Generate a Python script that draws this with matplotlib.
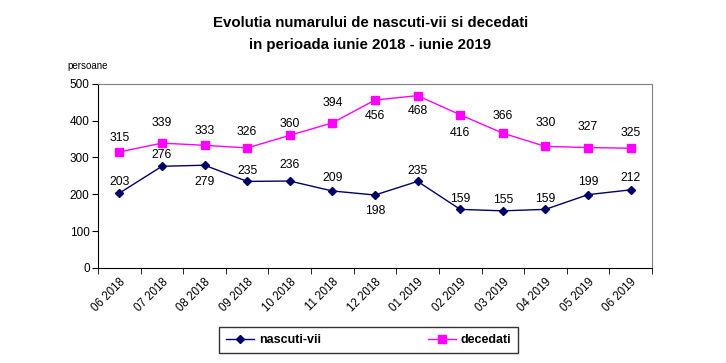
import numpy as np
import matplotlib.pyplot as plt

plt.rcParams['font.family'] = ['Liberation Sans', 'DejaVu Sans']

luni = ['06 2018', '07 2018', '08 2018', '09 2018', '10 2018', '11 2018', '12 2018',
        '01 2019', '02 2019', '03 2019', '04 2019', '05 2019', '06 2019']
nascuti = [203, 276, 279, 235, 236, 209, 198, 235, 159, 155, 159, 199, 212]
decedati = [315, 339, 333, 326, 360, 394, 456, 468, 416, 366, 330, 327, 325]

# offset vertical al etichetelor (pixeli, + sus / - jos)
off_nascuti = [11, 11, -17, 10, 16, 13, -16, 10, 10, 11, 10, 13, 12]
off_decedati = [14, 20, 14, 16, 11, 20, -16, -15, -18, 17, 23, 21, 15]

fig = plt.figure(figsize=(7.26, 3.63), dpi=100)
ax = fig.add_axes([0.135, 0.262, 0.763, 0.507])

x = np.arange(len(luni))
ax.plot(x, nascuti, color='#000066', lw=1, marker='D', ms=4, label='nascuti-vii')
ax.plot(x, decedati, color='#FF00FF', lw=1, marker='s', ms=6, label='decedati')

px = 0.72
for i in range(len(x)):
    ax.annotate(str(nascuti[i]), (x[i], nascuti[i]), xytext=(0, off_nascuti[i] * px),
                textcoords='offset points', ha='center', va='center', fontsize=8.8)
    ax.annotate(str(decedati[i]), (x[i], decedati[i]), xytext=(0, off_decedati[i] * px),
                textcoords='offset points', ha='center', va='center', fontsize=8.8)

ax.set_xlim(-0.5, len(luni) - 0.5)
ax.set_ylim(0, 500)
ax.set_yticks(range(0, 501, 100))
ax.set_xticks(x)
ax.set_xticklabels(luni, rotation=45, ha='right', va='top', rotation_mode='anchor', fontsize=8.3)
ax.set_xticks(np.arange(-0.5, len(luni), 1), minor=True)
ax.tick_params(axis='x', which='major', length=0, pad=6)
ax.tick_params(axis='x', which='minor', length=4, direction='out', color='black')
ax.tick_params(axis='y', length=4, direction='out', labelsize=8.5, pad=2)

for s in ['top', 'right']:
    ax.spines[s].set_color('#808080')
for s in ['left', 'bottom']:
    ax.spines[s].set_color('black')

fig.text(0.135 - 0.042, 0.818, 'persoane', fontsize=7, ha='left', va='center')
fig.text(0.51, 0.937, 'Evolutia numarului de nascuti-vii si decedati', fontsize=10.8,
         fontweight='bold', ha='center', va='center')
fig.text(0.51, 0.876, 'in perioada iunie 2018 - iunie 2019', fontsize=10.8,
         fontweight='bold', ha='center', va='center')

leg = fig.legend(loc='center', bbox_to_anchor=(0.508, 0.063), ncol=2, frameon=True,
                 fancybox=False, edgecolor='black', prop={'weight': 'bold', 'size': 9},
                 columnspacing=8.6, handlelength=2.2, handletextpad=0.4, borderpad=0.55,
                 borderaxespad=0)
leg.get_frame().set_linewidth(1)

fig.savefig('out.png', dpi=100)
